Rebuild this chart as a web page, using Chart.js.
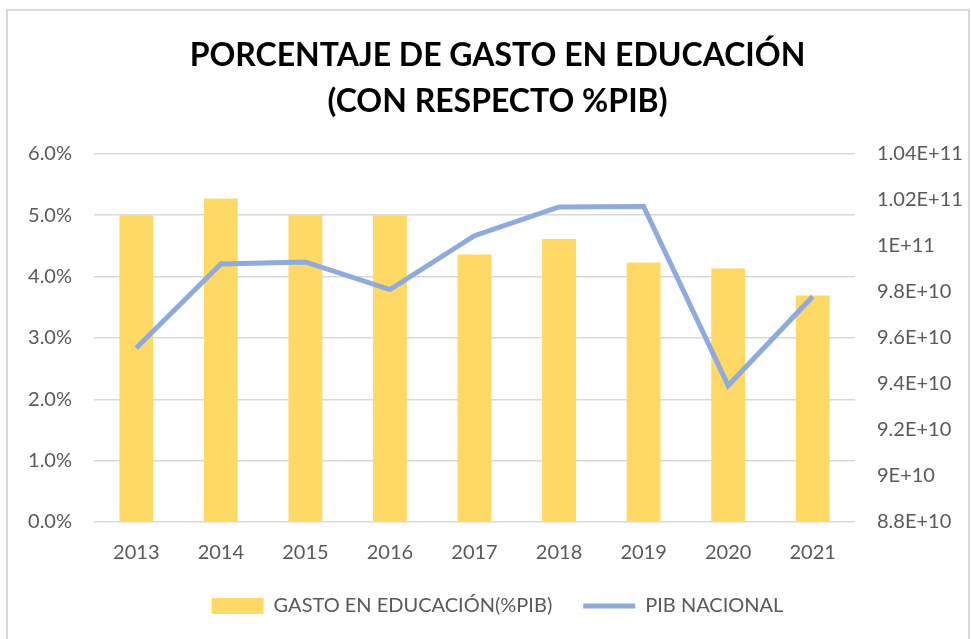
<!DOCTYPE html>
<html>
<head>
<meta charset="utf-8">
<script src="https://cdn.jsdelivr.net/npm/chart.js@4"></script>
<style>
  html, body { margin: 0; padding: 0; background: #fff; }
  #wrap { position: relative; width: 971px; height: 639px; overflow: hidden; }
  #frame { position: absolute; left: 6px; top: 9px; width: 960px; height: 700px; border: 2px solid #d9d9d9; }
  canvas { position: absolute; left: 0; top: 0; }
</style>
</head>
<body>
<div id="wrap">
  <div id="frame"></div>
  <canvas id="chart" width="971" height="639"></canvas>
</div>
<script>
const years = ['2013', '2014', '2015', '2016', '2017', '2018', '2019', '2020', '2021'];
const gastoEducacion = [5.0, 5.27, 5.0, 5.0, 4.36, 4.61, 4.23, 4.13, 3.69];
const pibNacional = [9.556e10, 9.921e10, 9.930e10, 9.810e10, 1.0044e11, 1.0169e11, 1.0171e11, 9.393e10, 9.780e10];
const titleLines = ['PORCENTAJE DE GASTO EN EDUCACIÓN', '(CON RESPECTO %PIB)'];

const grey = '#595959';
const font = 'Lato, "Open Sans", sans-serif';

function sci(v) {
  const n = parseFloat(Number(v).toPrecision(3));
  return n.toExponential().replace('e+', 'E+').toUpperCase();
}

const ctx = document.getElementById('chart').getContext('2d');
new Chart(ctx, {
  data: {
    labels: years,
    datasets: [
      {
        type: 'line',
        label: 'PIB NACIONAL',
        data: pibNacional,
        yAxisID: 'y1',
        borderColor: '#8faadc',
        backgroundColor: '#8faadc',
        borderWidth: 5,
        pointRadius: 0,
        pointStyle: 'line',
        tension: 0,
        order: 1
      },
      {
        type: 'bar',
        label: 'GASTO EN EDUCACIÓN(%PIB)',
        data: gastoEducacion,
        yAxisID: 'y',
        backgroundColor: '#ffd966',
        borderWidth: 0,
        pointStyle: 'rect',
        barPercentage: 0.4,
        categoryPercentage: 1,
        order: 2
      }
    ]
  },
  options: {
    responsive: false,
    animation: false,
    layout: { padding: { left: 24, right: 0, bottom: 13 } },
    plugins: {
      title: {
        display: true,
        text: titleLines,
        color: '#000',
        font: { family: font, size: 32, weight: 'bold', lineHeight: 1.45 },
        padding: { top: 32, bottom: 29 }
      },
      legend: {
        position: 'bottom',
        reverse: true,
        labels: {
          usePointStyle: true,
          pointStyleWidth: 52,
          boxHeight: 16,
          color: grey,
          font: { family: font, size: 20 },
          padding: 31
        }
      },
      tooltip: { enabled: false }
    },
    scales: {
      x: {
        grid: { display: false, drawTicks: false },
        border: { display: false },
        ticks: { color: grey, font: { family: font, size: 20 }, padding: 19 },
        afterFit: s => { s.height = 43; }
      },
      y: {
        position: 'left',
        min: 0,
        max: 6,
        ticks: {
          stepSize: 1,
          color: grey,
          font: { family: font, size: 20 },
          padding: 22,
          callback: v => v.toFixed(1) + '%'
        },
        grid: { color: '#d9d9d9', lineWidth: 1.5, drawTicks: false },
        border: { display: false },
        afterFit: s => { s.width = 70; }
      },
      y1: {
        position: 'right',
        min: 8.8e10,
        max: 1.04e11,
        ticks: {
          stepSize: 2e9,
          color: grey,
          font: { family: font, size: 20 },
          padding: 22,
          callback: v => sci(v)
        },
        grid: { display: false, drawTicks: false },
        border: { display: false },
        afterFit: s => { s.width = 116; }
      }
    }
  }
});
</script>
</body>
</html>
